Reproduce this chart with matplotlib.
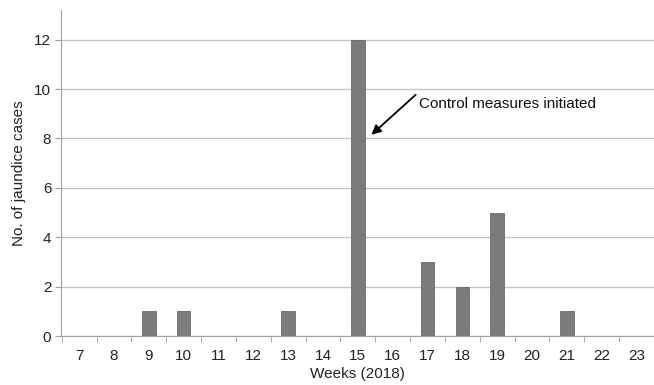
import matplotlib.pyplot as plt
import numpy as np

plt.rcParams['font.family'] = ['Liberation Sans', 'DejaVu Sans']

weeks = list(range(7, 24))
cases = [0, 0, 1, 1, 0, 0, 1, 0, 12, 0, 3, 2, 5, 0, 1, 0, 0]
yticks = [0, 2, 4, 6, 8, 10, 12]

fig = plt.figure(figsize=(6.54, 3.85), dpi=100)
ax = fig.add_axes([0.0933, 0.127, 0.9067, 0.847])

x = np.arange(len(weeks))
ax.bar(x, cases, width=0.39, color='#7b7b7b', edgecolor='#6a6a6a', linewidth=0.6, zorder=3)

ax.set_xlim(-0.52, len(weeks) - 0.7)
ax.set_ylim(0, 13.2)
ax.set_yticks(yticks)
ax.set_xticks(x)
ax.set_xticklabels([str(w) for w in weeks])
ax.set_xticks(np.arange(-0.5, len(weeks), 1), minor=True)
ax.tick_params(axis='x', which='major', length=0, pad=9, labelsize=11, colors='#222222')
ax.tick_params(axis='x', which='minor', length=4, color='#a0a0a0', direction='out')
ax.tick_params(axis='y', length=4, color='#a0a0a0', labelsize=11, labelcolor='#222222', pad=3)

ax.grid(axis='y', color='#c4c4c4', linewidth=1, zorder=0)
for s in ['top', 'right']:
    ax.spines[s].set_visible(False)
ax.spines['left'].set_color('#a0a0a0')
ax.spines['bottom'].set_color('#a0a0a0')

ax.set_ylabel('No. of jaundice cases', fontsize=11, color='#222222', labelpad=6)
ax.set_xlabel('Weeks (2018)', fontsize=11, color='#222222', labelpad=3)

# arrow and label drawn separately
ax.annotate('', xy=(8.39, 8.15), xytext=(9.66, 9.77),
            arrowprops=dict(arrowstyle='-|>', color='black', lw=1.3, mutation_scale=14,
                            shrinkA=0, shrinkB=0))
ax.text(9.75, 9.4, 'Control measures initiated', fontsize=11, color='#111111',
        va='center', ha='left')

fig.savefig('out.png', dpi=100)
